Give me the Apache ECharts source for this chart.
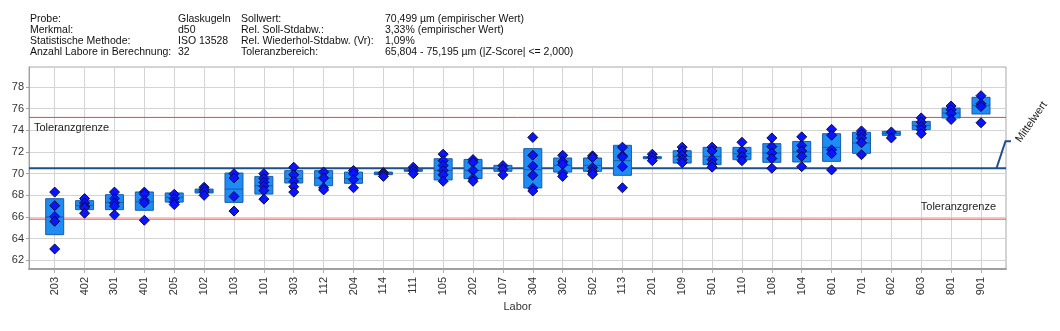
<!DOCTYPE html>
<html><head><meta charset="utf-8">
<script src="https://cdn.jsdelivr.net/npm/echarts@6/dist/echarts.min.js"></script>
<style>html,body{margin:0;padding:0;background:#fff}#c{width:1060px;height:331px}</style>
</head><body><div id="c"></div>
<script>
const labs = ['203','402','301','401','205','102','103','101','303','112','204','114','111','105','202','107','304','302','502','113','201','109','501','110','108','104','601','701','602','603','801','901'];
const boxLow  = [64.37,66.68,66.68,66.62,67.38,68.22,67.35,68.12,69.14,68.89,69.11,69.91,70.22,69.42,69.54,70.22,68.68,70.15,70.22,69.85,71.38,70.98,70.83,71.29,71.05,71.08,71.14,71.88,73.54,74.06,75.14,75.51];
const boxMid  = [66.0,67.08,67.35,67.4,67.82,68.4,68.58,68.89,69.54,69.6,69.54,70.03,70.32,70.31,70.31,70.49,70.37,70.77,70.77,71.2,71.48,71.6,71.6,71.85,71.91,72.0,72.43,72.83,73.72,74.46,75.6,76.31];
const boxHigh = [67.69,67.51,68.06,68.31,68.22,68.58,70.06,69.75,70.28,70.28,70.15,70.15,70.43,71.38,71.32,70.77,72.31,71.45,71.45,72.62,71.57,72.12,72.43,72.43,72.77,72.98,73.69,73.82,73.91,74.83,76.06,77.05];
const labValues = [
  [68.3,67.05,66.05,65.6,63.05],
  [67.7,67.3,67.0,66.85,66.35],
  [68.3,67.7,67.3,67.0,66.2],
  [68.3,68.1,67.55,67.3,65.7],
  [68.1,67.7,67.35,67.15],
  [68.75,68.55,68.3,68.0],
  [70.0,69.6,67.9,66.55],
  [70.0,69.55,69.2,68.85,68.45,67.65],
  [70.6,69.9,69.3,68.8,68.3],
  [70.15,69.6,68.7,68.5],
  [70.3,70.0,69.45,68.7],
  [70.1,69.95,69.75],
  [70.6,70.3,70.0],
  [71.8,71.2,70.75,70.3,69.9,69.3],
  [71.3,71.05,70.3,69.55,69.3],
  [70.75,70.4,69.9],
  [73.35,71.7,70.7,69.85,68.65,68.4],
  [71.7,71.1,70.85,70.05,69.75],
  [71.65,71.5,70.55,70.2,69.95],
  [72.45,71.65,71.55,70.65,68.7],
  [71.8,71.5,71.2],
  [72.45,72.1,71.7,71.3,71.0],
  [72.45,72.1,71.3,70.9,70.6],
  [72.9,72.1,71.6,71.2],
  [73.3,72.5,71.9,71.4,70.5],
  [73.4,72.6,72.1,71.6,70.65],
  [74.1,73.55,72.2,71.85,70.35],
  [73.95,73.65,73.3,72.85,71.75],
  [73.85,73.3],
  [75.15,74.75,74.35,74.05,73.7],
  [76.25,75.9,75.55,75.0],
  [77.2,76.45,76.2,74.7]
];
const yTicks = [62,64,66,68,70,72,74,76,78];
const meanValue = 70.499;
const tolLow = 65.804;
const tolHigh = 75.195;
const tolLabel = 'Toleranzgrenze';
const meanLabel = 'Mittelwert';
const headerCol1 = ['Probe:','Merkmal:','Statistische Methode:','Anzahl Labore in Berechnung:'];
const headerCol2 = ['Glaskugeln','d50','ISO 13528','32'];
const headerCol3 = ['Sollwert:','Rel. Soll-Stdabw.:','Rel. Wiederhol-Stdabw. (Vr):','Toleranzbereich:'];
const headerCol4 = ['70,499 µm (empirischer Wert)','3,33% (empirischer Wert)','1,09%','65,804 - 75,195 µm (|Z-Score| <= 2,000)'];

const FONT = 'Liberation Sans, Arial, sans-serif';
const Y_MIN = 61.2, Y_MAX = 79.85;
const chart = echarts.init(document.getElementById('c'), null, {renderer:'canvas'});

const points = [];
labValues.forEach((vals, i) => vals.forEach(v => points.push([i, v])));

const headerGraphics = [];
const colX = [30, 178, 241, 385];
[headerCol1, headerCol2, headerCol3, headerCol4].forEach((col, c) => {
  col.forEach((t, r) => {
    headerGraphics.push({type:'text', x: colX[c], y: 19.5 + r*11, z:100, style:{text:t, fill:'#111', font:'10.5px ' + FONT, textVerticalAlign:'middle', textAlign:'left'}});
  });
});

function refLine(value, color, width) {
  return {type:'line', xAxisIndex:0, yAxisIndex:0, data:[[0, value],[1, value]], silent:true,
    symbol:'none', showSymbol:false, color:color, z:3,
    lineStyle:{color:color, width:width, type:'solid', opacity:1},
    emphasis:{disabled:true}};
}

chart.setOption({
  animation:false,
  backgroundColor:'#fff',
  grid:[
    {left:29, top:67, width:977, height:202, show:true, borderColor:'#a8a8a8', borderWidth:1, backgroundColor:'#fff', containLabel:false},
    {left:54.7, top:67, width:926.3, height:202, containLabel:false}
  ],
  xAxis:[
    {gridIndex:0, type:'value', min:0, max:1, axisLabel:{show:false}, axisTick:{show:false}, splitLine:{show:false},
     axisLine:{show:true, lineStyle:{color:'#a0a0a0', width:2}},
     name:'Labor', nameLocation:'middle', nameGap:32, nameTextStyle:{fontFamily:FONT, fontSize:11, color:'#333'}},
    {gridIndex:1, type:'category', data:labs, boundaryGap:false,
     axisLine:{show:false},
     axisTick:{show:true, interval:0, length:4, lineStyle:{color:'#b0b0b0'}},
     axisLabel:{interval:0, rotate:90, fontFamily:FONT, fontSize:11, color:'#333', margin:8},
     splitLine:{show:true, interval:0, lineStyle:{color:'#d4d4d4', width:1}}}
  ],
  yAxis:[
    {gridIndex:0, type:'value', min:Y_MIN, max:Y_MAX,
     axisLine:{show:true, lineStyle:{color:'#a0a0a0'}},
     axisTick:{show:true, length:3, customValues:yTicks, lineStyle:{color:'#a0a0a0'}},
     axisLabel:{customValues:yTicks, fontFamily:FONT, fontSize:11, color:'#333', margin:5},
     splitLine:{show:true, lineStyle:{color:'#d4d4d4', width:1}}},
    {gridIndex:1, type:'value', min:Y_MIN, max:Y_MAX, show:false, splitLine:{show:false}}
  ],
  series:[
    refLine(meanValue, '#1f4e8c', 2),
    refLine(tolHigh, '#ff3c3c', 1),
    refLine(tolLow, '#ff3c3c', 1),
    {type:'custom', xAxisIndex:1, yAxisIndex:1, silent:true, z:4,
     data: labs.map((l,i) => [i, boxLow[i], boxMid[i], boxHigh[i]]),
     renderItem:function(params, api){
       const x = api.value(0);
       const pLow = api.coord([x, api.value(1)]);
       const pMid = api.coord([x, api.value(2)]);
       const pHigh = api.coord([x, api.value(3)]);
       const w = 18;
       return {type:'group', children:[
         {type:'rect', shape:{x:pLow[0]-w/2, y:pHigh[1], width:w, height:Math.max(1,pLow[1]-pHigh[1])},
          style:{fill:'#1e8cf5', stroke:'#1b5aa6', lineWidth:1}},
         {type:'line', shape:{x1:pMid[0]-w/2, y1:pMid[1], x2:pMid[0]+w/2, y2:pMid[1]},
          style:{stroke:'#1b5aa6', lineWidth:1}}
       ]};
     }},
    {type:'scatter', xAxisIndex:1, yAxisIndex:1, data:points, symbol:'diamond', symbolSize:10, silent:true, z:5,
     itemStyle:{color:'#0a14ff', borderColor:'#0a0a40', borderWidth:1, opacity:1}}
  ],
  graphic: headerGraphics
});

const yMean = chart.convertToPixel({yAxisIndex:0}, meanValue);
const yTolHigh = chart.convertToPixel({yAxisIndex:0}, tolHigh);
const yTolLow = chart.convertToPixel({yAxisIndex:0}, tolLow);
const xLeft = 29, xRight = 29 + 977;
chart.setOption({graphic: headerGraphics.concat([
  {type:'text', x:xLeft+5, y:yTolHigh+11, silent:true, z:100,
   style:{text:tolLabel, font:'11px ' + FONT, fill:'#222', textAlign:'left', textVerticalAlign:'middle'}},
  {type:'text', x:xRight-10, y:yTolLow-12, silent:true, z:100,
   style:{text:tolLabel, font:'11px ' + FONT, fill:'#222', textAlign:'right', textVerticalAlign:'middle'}},
  {type:'polyline', silent:true, z:100, shape:{points:[[xRight-9.5, yMean],[xRight-0.5, yMean-27],[xRight+5, yMean-27]]},
   style:{stroke:'#1f4e8c', lineWidth:2, fill:null}},
  {type:'text', x:xRight+12, y:yMean-27, rotation:55*Math.PI/180, silent:true, z:100,
   style:{text:meanLabel, font:'11px ' + FONT, fill:'#222', textAlign:'left', textVerticalAlign:'middle'}}
])});
</script>
</body></html>
